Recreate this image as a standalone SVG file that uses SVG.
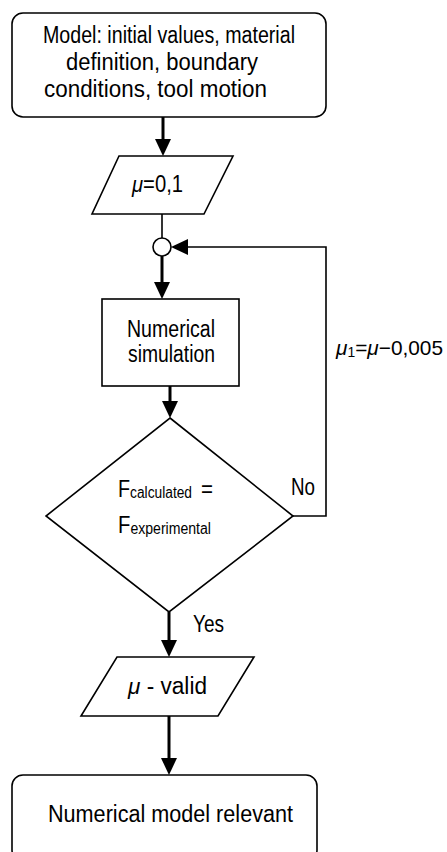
<svg xmlns="http://www.w3.org/2000/svg" width="447" height="852" viewBox="0 0 447 852">
<defs>
<style>
.box{fill:#fff;stroke:#000;stroke-width:1.6}
.t{font-family:"Liberation Sans",Arial,sans-serif;font-size:23px;fill:#000}
.i{font-style:italic}
.thick{fill:none;stroke:#000;stroke-width:3}
.thin{fill:none;stroke:#000;stroke-width:1.6}
</style>
<marker id="ah" markerUnits="userSpaceOnUse" markerWidth="18" markerHeight="18" refX="0" refY="8" orient="auto" overflow="visible">
<path d="M0,0 L17,8 L0,16 Z" fill="#000"/>
</marker>
</defs>
<g id="connectors">
<line class="thick" x1="163" y1="117" x2="163" y2="139" marker-end="url(#ah)"/>
<line class="thin" x1="162" y1="214" x2="162" y2="238"/>
<line class="thick" x1="162" y1="256" x2="162" y2="282" marker-end="url(#ah)"/>
<line class="thick" x1="170" y1="386" x2="170" y2="401" marker-end="url(#ah)"/>
<line class="thick" x1="169" y1="612" x2="169" y2="640" marker-end="url(#ah)"/>
<line class="thick" x1="169" y1="716" x2="169" y2="758" marker-end="url(#ah)"/>
<polyline class="thin" points="293,516 326,516 326,247 188,247" marker-end="url(#ah)"/>
</g>
<g id="start">
<rect class="box" x="12" y="13" width="314" height="104" rx="11"/>
<text class="t" x="43" y="43" textLength="252" lengthAdjust="spacingAndGlyphs">Model: initial values, material</text>
<text class="t" x="66" y="70" textLength="192" lengthAdjust="spacingAndGlyphs">definition, boundary</text>
<text class="t" x="44" y="97" textLength="223" lengthAdjust="spacingAndGlyphs">conditions, tool motion</text>
</g>
<g id="mu-init">
<polygon class="box" points="119,156 233,156 204,214 92,214"/>
<text class="t" x="132" y="192" textLength="51" lengthAdjust="spacingAndGlyphs"><tspan class="i">μ</tspan>=0,1</text>
</g>
<g id="junction">
<circle class="box" cx="162" cy="247" r="9"/>
</g>
<g id="simulation">
<rect class="box" x="102" y="299" width="137" height="87"/>
<text class="t" x="127" y="337" textLength="88" lengthAdjust="spacingAndGlyphs">Numerical</text>
<text class="t" x="128" y="362" textLength="87" lengthAdjust="spacingAndGlyphs">simulation</text>
</g>
<g id="decision">
<polygon class="box" points="170,418 293,516 169,612 46,516"/>
<text class="t" x="118" y="497" textLength="74" lengthAdjust="spacingAndGlyphs">F<tspan font-size="16" dy="1">calculated</tspan></text>
<text class="t" x="201" y="497" textLength="12" lengthAdjust="spacingAndGlyphs">=</text>
<text class="t" x="118" y="533" textLength="93" lengthAdjust="spacingAndGlyphs">F<tspan font-size="16" dy="1">experimental</tspan></text>
<text class="t" x="291" y="495" textLength="24" lengthAdjust="spacingAndGlyphs">No</text>
<text class="t" x="193" y="632" textLength="31" lengthAdjust="spacingAndGlyphs">Yes</text>
</g>
<g id="update-label">
<text class="t" x="336" y="355" font-size="21" style="font-size:21px" textLength="107" lengthAdjust="spacingAndGlyphs"><tspan class="i">μ</tspan><tspan font-size="14" style="font-size:14px" dy="2">1</tspan><tspan dy="-2">=</tspan><tspan class="i">μ</tspan>−0,005</text>
</g>
<g id="mu-valid">
<polygon class="box" points="117,657 254,657 218,716 81,716"/>
<text class="t" x="128" y="694" textLength="79" lengthAdjust="spacingAndGlyphs"><tspan class="i">μ</tspan> - valid</text>
</g>
<g id="end">
<rect class="box" x="12" y="775" width="305" height="86" rx="11"/>
<text class="t" x="48" y="822" textLength="245" lengthAdjust="spacingAndGlyphs">Numerical model relevant</text>
</g>
</svg>
